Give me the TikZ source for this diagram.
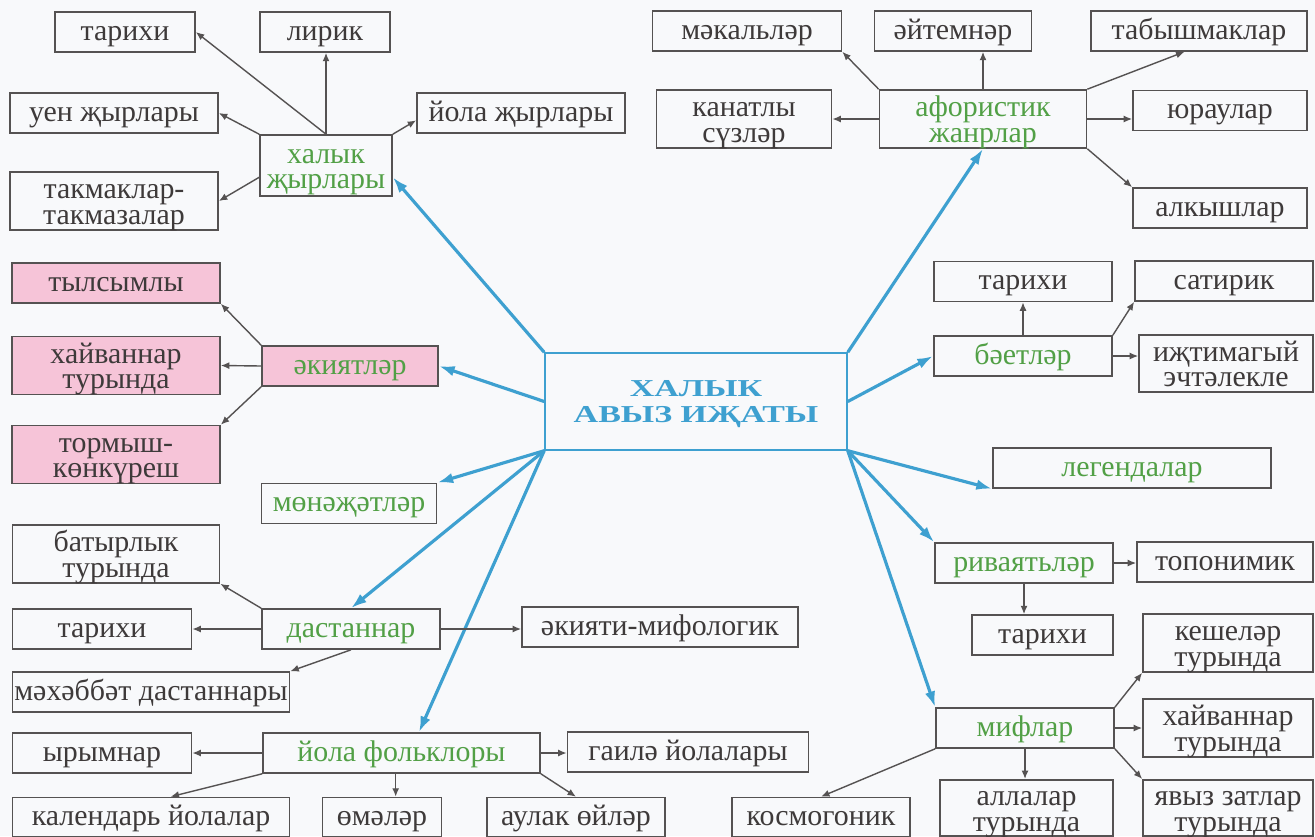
\documentclass[tikz,border=0pt]{standalone}
\usepackage{fontspec}
\setmainfont{Liberation Serif}
\newfontfamily\titlefont[FakeStretch=1.4]{Liberation Serif}
\usetikzlibrary{arrows.meta}
\definecolor{ink}{RGB}{62,58,58}
\definecolor{edge}{RGB}{85,82,82}
\definecolor{leaf}{RGB}{82,160,70}
\definecolor{sky}{RGB}{62,160,208}
\definecolor{rose}{RGB}{246,196,216}
\definecolor{paper}{RGB}{248,249,251}

\begin{document}
\begin{tikzpicture}[x=0.01cm,y=-0.01cm,
	box/.style={draw=edge,line width=0.45pt,text=ink,inner sep=0pt,align=center,minimum height=4mm,text height=1.3ex,text depth=0.3ex,font=\fontsize{8.5}{7.3}\selectfont},
	tall/.style={minimum height=5.8mm,text height=3.2ex,text depth=0.3ex},
	cat/.style={box,text=leaf},
	tale/.style={box,fill=rose},
	gr/.style={draw=edge,line width=0.4pt,-{Latex[length=2.4pt,width=2pt]}},
	bl/.style={draw=sky,line width=0.9pt,-{Latex[length=4.5pt,width=3pt]}}]
	%page
	\useasboundingbox (0,0) rectangle (1315,836);
	\fill[paper] (0,0) rectangle (1315,836);

	%centre
	\node[box,draw=sky,line width=0.4pt,text=sky,minimum width=3.02cm,minimum height=9.7mm,text height=13pt,text depth=1pt,font=\titlefont\bfseries\fontsize{6.9}{7.4}\selectfont] (main) at (696,401.5) {ХАЛЫК\\АВЫЗ ИҖАТЫ};

	%halyk jyrlary
	\node[cat,tall,minimum height=6.1mm,minimum width=1.32cm] (xj) at (326,165.5) {халык\\җырлары};
	\node[box,minimum width=1.40cm] (xjt) at (125,32) {тарихи};
	\node[box,minimum width=1.30cm] (xjl) at (325,32) {лирик};
	\node[box,minimum width=2.08cm] (xju) at (114,113) {уен җырлары};
	\node[box,minimum width=2.08cm] (xjy) at (521,113) {йола җырлары};
	\node[box,tall,minimum width=2.08cm] (xjk) at (114,201) {такмаклар-\\такмазалар};

	%akiyatlar
	\node[cat,fill=rose,minimum width=1.76cm] (ak) at (350,366) {әкиятләр};
	\node[tale,minimum width=2.08cm] (ak1) at (116,283) {тылсымлы};
	\node[tale,tall,minimum width=2.08cm] (ak2) at (116,365.5) {хайваннар\\турында};
	\node[tale,tall,minimum width=2.08cm] (ak3) at (116,454.5) {тормыш-\\көнкүреш};
	\node[cat,minimum width=1.75cm] (mn) at (349,503.5) {мөнәҗәтләр};

	%dastannar
	\node[cat,minimum width=1.78cm] (ds) at (351,629) {дастаннар};
	\node[box,tall,minimum width=2.07cm] (ds1) at (116,554) {батырлык\\турында};
	\node[box,minimum width=1.79cm] (ds2) at (102,629) {тарихи};
	\node[box,minimum width=2.77cm] (ds3) at (151,692) {мәхәббәт дастаннары};
	\node[box,minimum width=2.76cm] (ds4) at (660,627) {әкияти-мифологик};

	%yola folklory
	\node[cat,minimum width=2.77cm] (yf) at (401.5,753) {йола фольклоры};
	\node[box,minimum width=1.79cm] (yf1) at (102,753) {ырымнар};
	\node[box,minimum width=2.77cm,minimum height=3.9mm] (yf2) at (151,817) {календарь йолалар};
	\node[box,minimum width=1.19cm,minimum height=3.9mm] (yf3) at (382,817) {өмәләр};
	\node[box,minimum width=1.78cm,minimum height=3.9mm] (yf4) at (576,817) {аулак өйләр};
	\node[box,minimum width=2.41cm] (yf5) at (688,752) {гаилә йолалары};

	%aforistik
	\node[cat,tall,minimum width=2.07cm] (af) at (983,119) {афористик\\жанрлар};
	\node[box,minimum width=1.89cm] (af1) at (747,31) {мәкальләр};
	\node[box,minimum width=1.57cm] (af2) at (953,31) {әйтемнәр};
	\node[box,minimum width=2.16cm] (af3) at (1199,31) {табышмаклар};
	\node[box,tall,minimum width=1.75cm] (af4) at (744,119) {канатлы\\сүзләр};
	\node[box,minimum width=1.74cm] (af5) at (1220,110.5) {юраулар};
	\node[box,minimum width=1.74cm] (af6) at (1220,208) {алкышлар};

	%baetlar
	\node[cat,minimum width=1.78cm] (bt) at (1023,356) {бәетләр};
	\node[box,minimum width=1.78cm] (bt1) at (1023,281.5) {тарихи};
	\node[box,minimum width=1.78cm] (bt2) at (1224,281) {сатирик};
	\node[box,tall,minimum height=5.7mm,minimum width=1.74cm] (bt3) at (1226,363.5) {иҗтимагый\\эчтәлекле};
	\node[cat,minimum width=2.78cm] (lg) at (1132,468) {легендалар};

	%rivayatlar
	\node[cat,minimum width=1.78cm] (rv) at (1024,563) {риваятьләр};
	\node[box,minimum width=1.76cm] (rv1) at (1225,562) {топонимик};
	\node[box,minimum width=1.41cm] (rv2) at (1042.5,635) {тарихи};

	%miflar
	\node[cat,minimum width=1.78cm] (mf) at (1025,728) {мифлар};
	\node[box,tall,minimum width=1.70cm] (mf1) at (1228,643) {кешеләр\\турында};
	\node[box,tall,minimum width=1.70cm] (mf2) at (1228,728) {хайваннар\\турында};
	\node[box,tall,minimum height=5.6mm,minimum width=1.70cm] (mf3) at (1228,808) {явыз затлар\\турында};
	\node[box,tall,minimum height=5.6mm,minimum width=1.73cm] (mf4) at (1026.5,808) {аллалар\\турында};
	\node[box,minimum width=1.78cm,minimum height=3.9mm] (mf5) at (821,817) {космогоник};

	%blue arrows
	\draw[bl] (main.north west) -- (xj.-10);
	\draw[bl] (main.west) -- (ak.east);
	\draw[bl] (main.south west) -- (mn.north east);
	\draw[bl] (main.south west) -- (ds.north);
	\draw[bl] (main.south west) -- (yf.50);
	\draw[bl] (main.north east) -- (af.south);
	\draw[bl] (main.east) -- (bt.west);
	\draw[bl] (main.south east) -- (lg.south west);
	\draw[bl] (main.south east) -- (rv.north west);
	\draw[bl] (main.south east) -- (mf.north west);

	%grey arrows
	\draw[gr] (xj.north) -- (xj.north |- xjl.south);
	\draw[gr] (xj.north) -- (xjt.east);
	\draw[gr] (xj.north west) -- (xju.east);
	\draw[gr] (xj.190) -- (xjk.east);
	\draw[gr] (xj.north east) -- (xjy.184);

	\draw[gr] (ak.north west) -- (ak1.south east);
	\draw[gr] (ak.west) -- (ak2.east);
	\draw[gr] (ak.south west) -- (ak3.north east);

	\draw[gr] (ds.north west) -- (ds1.south east);
	\draw[gr] (ds.west) -- (ds2.east);
	\draw[gr] (ds.south) -- (ds3.north east);
	\draw[gr] (ds.east) -- (ds.east -| ds4.west);

	\draw[gr] (yf.west) -- (yf1.east);
	\draw[gr] (yf.south west) -- (yf2.46);
	\draw[gr] (yf.south -| yf3.56) -- (yf3.56);
	\draw[gr] (yf.south east) -- (yf4.north);
	\draw[gr] (yf.east) -- (yf.east -| yf5.west);

	\draw[gr] (af.north west) -- (af1.south east);
	\draw[gr] (af.north) -- (af.north |- af2.south);
	\draw[gr] (af.north east) -- (af3.235);
	\draw[gr] (af.west) -- (af4.east);
	\draw[gr] (af.east) -- (af.east -| af5.west);
	\draw[gr] (af.south east) -- (af6.north west);

	\draw[gr] (bt.north) -- (bt1.south);
	\draw[gr] (bt.north east) -- (bt2.south west);
	\draw[gr] (bt.east) -- (bt.east -| bt3.west);

	\draw[gr] (rv.east) -- (rv.east -| rv1.west);
	\draw[gr] (rv.south) -- (rv.south |- rv2.north);

	\draw[gr] (mf.north east) -- (mf1.south west);
	\draw[gr] (mf.east) -- (mf2.west);
	\draw[gr] (mf.south east) -- (mf3.north west);
	\draw[gr] (mf.south) -- (mf.south |- mf4.north);
	\draw[gr] (mf.south west) -- (mf5.north);
\end{tikzpicture}
\end{document}
